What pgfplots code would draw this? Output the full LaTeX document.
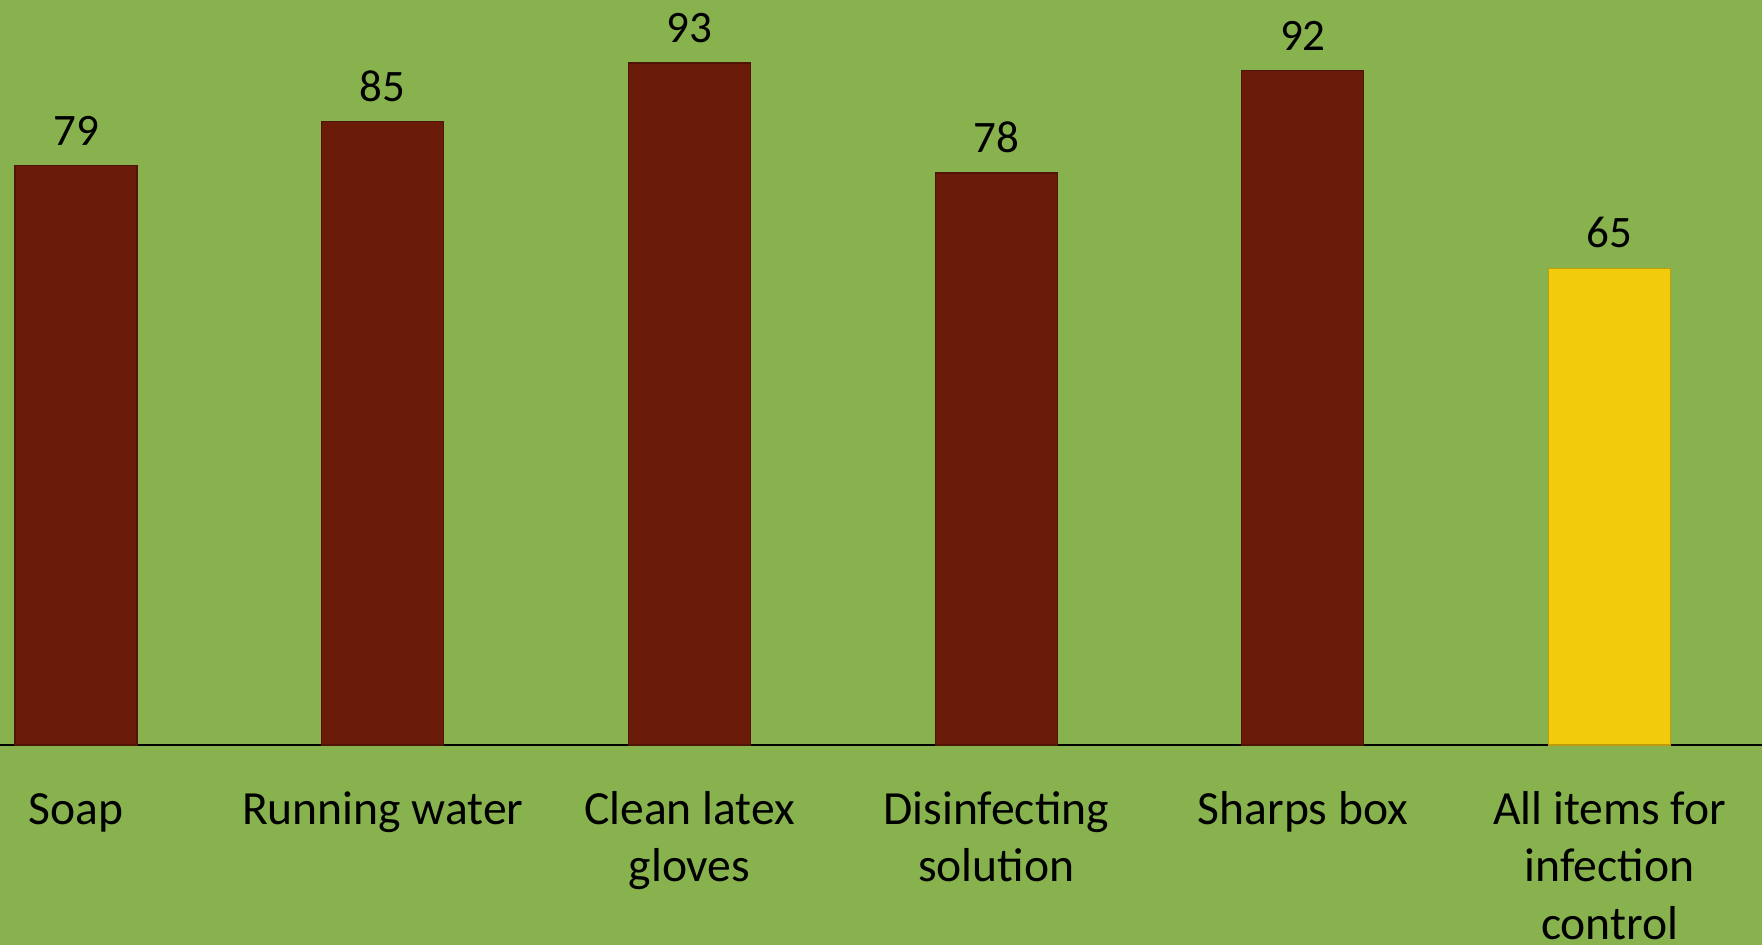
\documentclass[border=0pt]{standalone}
\usepackage{pgfplots}
\pgfplotsset{compat=1.18}
\usepackage{fontspec}
\setmainfont{Carlito}

\definecolor{bggreen}{RGB}{135,178,78}
\definecolor{barred}{RGB}{107,28,8}
\definecolor{barredline}{RGB}{80,20,5}
\definecolor{baryellow}{RGB}{242,204,12}
\definecolor{baryellowline}{RGB}{190,155,10}

\begin{document}
\begin{tikzpicture}
\useasboundingbox (0,-50pt) rectangle (440.5pt,186.25pt);
\fill[bggreen] (0,-50pt) rectangle (440.5pt,186.25pt);
\clip (0,-50pt) rectangle (440.5pt,186.25pt);
\begin{axis}[
    at={(0,0)}, anchor=south west,
    scale only axis,
    width=440.5pt, height=186.25pt,
    xmin=-0.248, xmax=5.497,
    ymin=0, ymax=101.6,
    axis x line=bottom,
    axis y line=none,
    axis line style={-, black, line width=0.4pt},
    ybar, bar width=30.5pt, bar shift=0pt,
    xtick={0,1,2,3,4,5},
    xticklabels={Soap, Running water, {Clean latex\\gloves}, {Disinfecting\\solution}, Sharps box, {All items for\\infection\\control}},
    major tick length=0pt,
    ytick=\empty,
    xticklabel style={align=center, font=\fontsize{11.9}{14.4}\selectfont, yshift=-6.2pt},
    typeset ticklabels with strut,
    /pgf/number format/assume math mode=true,
    nodes near coords,
    nodes near coords style={font=\fontsize{11.25}{13}\selectfont, yshift=1.6pt},
]
\addplot[fill=barred, draw=barredline, line width=0.3pt]
    coordinates {(0,79) (1,85) (2,93) (3,78) (4,92)};
\addplot[fill=baryellow, draw=baryellowline, line width=0.3pt]
    coordinates {(5,65)};
\end{axis}
\end{tikzpicture}
\end{document}
